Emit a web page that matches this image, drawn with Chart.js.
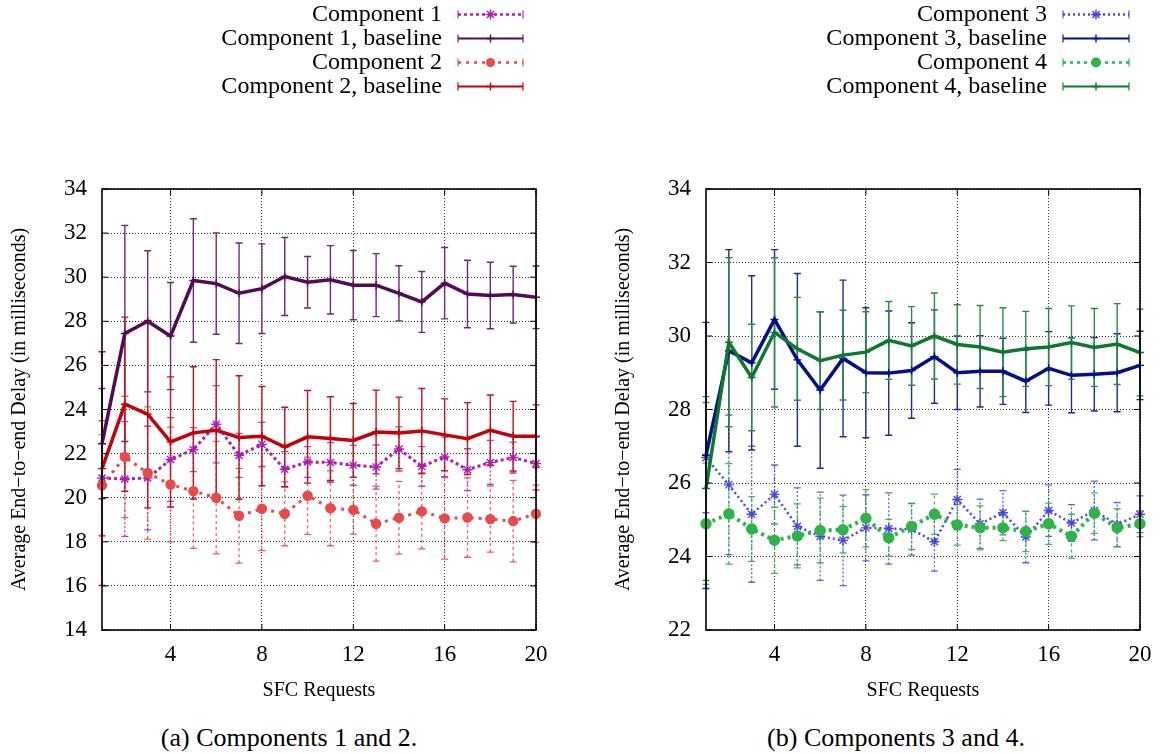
<!DOCTYPE html>
<html><head><meta charset="utf-8">
<script src="https://cdn.jsdelivr.net/npm/chart.js@4.4.1/dist/chart.umd.min.js"></script>
<style>
html,body{margin:0;padding:0;background:#fff;width:1165px;height:754px;overflow:hidden;}
#ca{position:absolute;left:0;top:0;}
#cb{position:absolute;left:604px;top:0;}
.cap{position:absolute;top:723px;width:400px;text-align:center;font-family:'Liberation Serif','Times New Roman',serif;font-size:26px;line-height:30px;color:#000;}
</style></head><body>
<canvas id="ca" width="582" height="720"></canvas>
<canvas id="cb" width="561" height="720"></canvas>
<div class="cap" style="left:89px">(a) Components 1 and 2.</div>
<div class="cap" style="left:696px">(b) Components 3 and 4.</div>
<script>
// ---------- data ----------
const xValues = [1,2,3,4,5,6,7,8,9,10,11,12,13,14,15,16,17,18,19,20];
const xTickValues = [4,8,12,16,20];
const yTicksA = [14,34];
const yTicksB = [22,34];

const comp1     = [20.89,20.85,20.89,21.73,22.18,23.33,21.92,22.42,21.29,21.62,21.60,21.47,21.39,22.21,21.42,21.85,21.27,21.60,21.82,21.55];
const comp1Err  = [2.6,2.6,2.35,1.9,1.0,1.75,1.0,1.0,0.8,0.7,0.9,0.9,1.0,1.0,0.9,0.9,0.95,1.0,0.7,1.2];
const comp1Base = [22.45,27.45,28.00,27.33,29.85,29.71,29.27,29.48,30.03,29.77,29.88,29.64,29.64,29.27,28.88,29.73,29.24,29.17,29.21,29.09];
const comp1BaseErr = [2.5,4.9,3.2,2.43,2.8,2.3,2.28,2.03,1.77,1.17,1.55,1.57,1.43,1.25,1.38,1.62,1.53,1.51,1.29,1.42];
const comp2     = [20.56,21.85,21.12,20.60,20.30,20.00,19.18,19.50,19.27,20.09,19.52,19.45,18.82,19.09,19.38,19.06,19.10,19.03,18.94,19.27];
const comp2Err  = [2.3,2.75,3.0,2.6,2.6,2.55,2.15,1.9,1.45,1.75,1.7,1.1,1.7,1.65,1.7,1.85,1.8,1.5,1.85,1.3];
const comp2Base = [21.32,24.24,23.79,22.53,22.94,23.06,22.73,22.79,22.30,22.76,22.68,22.60,22.98,22.94,23.03,22.85,22.68,23.06,22.79,22.79];
const comp2BaseErr = [5.3,3.95,4.25,2.95,3.0,3.2,2.8,2.25,1.8,2.1,1.9,1.67,1.9,1.62,1.92,1.63,1.63,1.6,1.58,1.42];

const comp3     = [26.69,25.95,25.15,25.69,24.82,24.55,24.44,24.78,24.76,24.74,24.40,25.55,24.89,25.19,24.53,25.25,24.91,25.25,24.87,25.15];
const comp3Err  = [1.5,1.9,1.85,0.8,1.05,1.2,1.23,0.9,0.97,0.7,0.8,0.82,0.67,0.6,0.7,0.7,0.5,0.8,0.6,0.5];
const comp3Base = [26.75,29.60,29.27,30.45,29.35,28.53,29.39,29.00,28.99,29.06,29.44,29.00,29.04,29.04,28.77,29.12,28.93,28.96,29.00,29.20];
const comp3BaseErr = [3.62,2.75,2.37,1.9,2.35,2.13,2.13,1.77,1.69,1.3,1.27,1.0,0.97,0.9,0.85,1.0,1.02,1.0,1.06,0.93];
const comp4     = [24.89,25.16,24.75,24.44,24.56,24.71,24.73,25.04,24.51,24.82,25.15,24.86,24.78,24.78,24.68,24.89,24.55,25.18,24.78,24.89];
const comp4Err  = [1.65,1.37,0.88,0.9,0.87,0.88,0.63,0.78,0.5,0.63,0.55,0.55,0.6,0.35,0.55,0.56,0.6,0.55,0.52,0.35];
const comp4Base = [25.85,29.83,28.87,30.10,29.65,29.33,29.48,29.56,29.88,29.73,30.00,29.77,29.70,29.56,29.65,29.70,29.82,29.69,29.78,29.55];
const comp4BaseErr = [2.5,2.3,1.45,2.03,1.4,1.33,1.22,1.1,1.06,1.07,1.17,1.08,1.13,1.21,1.02,1.05,1.0,1.06,1.1,1.18];

// ---------- helpers ----------
const F = "'Liberation Serif','Times New Roman',serif";

function marker(ctx, style, r, x, y) {
  ctx.beginPath();
  if (style === 'circle') {
    ctx.arc(x, y, r, 0, Math.PI * 2);
    ctx.fill();
    return;
  }
  ctx.moveTo(x - r, y); ctx.lineTo(x + r, y);
  ctx.moveTo(x, y - r); ctx.lineTo(x, y + r);
  if (style === 'star') {
    const d = r * Math.SQRT1_2;
    ctx.moveTo(x - d, y - d); ctx.lineTo(x + d, y + d);
    ctx.moveTo(x - d, y + d); ctx.lineTo(x + d, y - d);
  }
  ctx.stroke();
}

const errorBarPlugin = {
  id: 'errorBars',
  beforeDatasetsDraw(chart) {
    const ctx = chart.ctx, xs = chart.scales.x, ys = chart.scales.y;
    chart.data.datasets.forEach(ds => {
      if (!ds.errors) return;
      ctx.save();
      ctx.strokeStyle = ds.errColor;
      ctx.lineWidth = ds.errWidth;
      ctx.setLineDash(ds.errDash || []);
      const cap = 3.5;
      ds.data.forEach((p, j) => {
        const e = ds.errors[j];
        const x = xs.getPixelForValue(p.x);
        const y1 = ys.getPixelForValue(p.y - e), y2 = ys.getPixelForValue(p.y + e);
        ctx.beginPath();
        ctx.moveTo(x, y1); ctx.lineTo(x, y2);
        ctx.stroke();
        ctx.save(); ctx.setLineDash([]);
        ctx.beginPath();
        ctx.moveTo(x - cap, y1); ctx.lineTo(x + cap, y1);
        ctx.moveTo(x - cap, y2); ctx.lineTo(x + cap, y2);
        ctx.stroke();
        ctx.restore();
      });
      ctx.restore();
    });
  }
};

const framePlugin = {
  id: 'frame',
  afterDatasetsDraw(chart) {
    const {ctx, chartArea: {left, right, top, bottom}} = chart;
    const xs = chart.scales.x, ys = chart.scales.y, t = 6;
    ctx.save();
    ctx.setLineDash([]);
    ctx.strokeStyle = '#000';
    ctx.lineWidth = 1;
    ctx.beginPath();
    xs.ticks.forEach(tk => { const x = xs.getPixelForValue(tk.value);
      ctx.moveTo(x, bottom); ctx.lineTo(x, bottom - t); ctx.moveTo(x, top); ctx.lineTo(x, top + t); });
    ys.ticks.forEach(tk => { const y = ys.getPixelForValue(tk.value);
      ctx.moveTo(left, y); ctx.lineTo(left + t, y); ctx.moveTo(right, y); ctx.lineTo(right - t, y); });
    ctx.stroke();
    ctx.lineWidth = 1.6;
    ctx.strokeRect(left, top, right - left, bottom - top);
    ctx.restore();
  }
};

const legendPlugin = {
  id: 'sideLegend',
  afterDraw(chart, args, opts) {
    const ctx = chart.ctx;
    chart.data.datasets.forEach((ds, i) => {
      const y = opts.top + i * opts.step;
      ctx.save();
      ctx.font = opts.size + 'px ' + F;
      ctx.fillStyle = '#000';
      ctx.textAlign = 'right';
      ctx.textBaseline = 'middle';
      ctx.fillText(ds.label, opts.textRight, y);
      ctx.strokeStyle = ds.borderColor;
      ctx.lineWidth = ds.legendWidth;
      ctx.setLineDash(ds.borderDash || []);
      ctx.beginPath(); ctx.moveTo(opts.x1, y); ctx.lineTo(opts.x2, y); ctx.stroke();
      ctx.setLineDash([]);
      ctx.strokeStyle = ds.errColor;
      ctx.lineWidth = 1.3;
      ctx.beginPath();
      ctx.moveTo(opts.x1, y - 4); ctx.lineTo(opts.x1, y + 4);
      ctx.moveTo(opts.x2, y - 4); ctx.lineTo(opts.x2, y + 4);
      ctx.stroke();
      ctx.strokeStyle = ds.pointBorderColor;
      ctx.fillStyle = ds.pointBackgroundColor;
      ctx.lineWidth = ds.pointBorderWidth;
      marker(ctx, ds.pointStyle, ds.pointRadius, (opts.x1 + opts.x2) / 2, y);
      ctx.restore();
    });
  }
};

function mk(label, ys, errs, color, errColor, width, dash, pStyle, pRadius, errDash, order) {
  return {
    label, data: xValues.map((x, i) => ({x, y: ys[i]})), errors: errs,
    borderColor: color, borderWidth: width, borderDash: dash, tension: 0, fill: false, clip: false,
    pointStyle: pStyle, pointRadius: pRadius, pointBorderColor: color, pointBackgroundColor: color,
    pointBorderWidth: 1.4, pointHoverRadius: pRadius,
    errColor, errWidth: errDash ? 1.3 : 1.4, errDash, legendWidth: dash.length ? Math.min(width, 2.5) : 2, order
  };
}

function makeChart(id, datasets, yRange, rightPad, legendOpts) {
  return new Chart(document.getElementById(id), {
    type: 'line',
    data: {datasets},
    options: {
      responsive: false, animation: false, devicePixelRatio: 1,
      layout: {padding: {top: 189, right: rightPad, bottom: 10, left: 0}},
      plugins: {legend: {display: false}, tooltip: {enabled: false}, sideLegend: legendOpts},
      scales: {
        x: {
          type: 'linear', min: 1, max: 20,
          afterBuildTicks: s => { s.ticks = xTickValues.map(v => ({value: v})); },
          afterFit: s => { s.height = 80; },
          grid: {color: 'rgba(0,0,0,0.8)', lineWidth: 1, drawTicks: false, borderDash: [1, 2]},
          border: {display: false, dash: [1, 2]},
          ticks: {font: {family: F, size: 23}, color: '#000', padding: 11, maxRotation: 0, autoSkip: false},
          title: {display: true, text: 'SFC Requests', font: {family: F, size: 20}, color: '#000', padding: {top: 0, bottom: 7}}
        },
        y: {
          type: 'linear', min: yRange[0], max: yRange[1],
          afterFit: s => { s.width = 102; },
          grid: {color: 'rgba(0,0,0,0.8)', lineWidth: 1, drawTicks: false, borderDash: [1, 2]},
          border: {display: false, dash: [1, 2]},
          ticks: {stepSize: 2, font: {family: F, size: 23}, color: '#000', padding: 15},
          title: {display: true, text: 'Average End\u2212to\u2212end Delay (in milliseconds)', font: {family: F, size: 20}, color: '#000', padding: {top: 8, bottom: 0}}
        }
      }
    },
    plugins: [errorBarPlugin, framePlugin, legendPlugin]
  });
}

makeChart('ca', [
  mk('Component 1', comp1, comp1Err, '#b01cb0', 'rgba(176,28,176,0.85)', 3, [3, 3], 'star', 5, [2, 2], 4),
  mk('Component 1, baseline', comp1Base, comp1BaseErr, '#530b53', '#6e2a6e', 3.5, [], 'cross', 4, null, 3),
  mk('Component 2', comp2, comp2Err, '#e8494b', 'rgba(232,73,75,0.85)', 3, [3, 5], 'circle', 4.5, [3, 3], 2),
  mk('Component 2, baseline', comp2Base, comp2BaseErr, '#c4000a', '#c8101a', 3.5, [], 'cross', 4, null, 1)
], yTicksA, 46, {top: 14.5, step: 24, size: 24, textRight: 442, x1: 458, x2: 523});

makeChart('cb', [
  mk('Component 3', comp3, comp3Err, '#4646e6', 'rgba(70,70,230,0.85)', 2.5, [2, 3], 'star', 5, [2, 2], 4),
  mk('Component 3, baseline', comp3Base, comp3BaseErr, '#00108a', '#1a2a96', 3.5, [], 'cross', 4, null, 3),
  mk('Component 4', comp4, comp4Err, '#2db34a', 'rgba(45,179,74,0.9)', 4, [3, 4], 'circle', 5, [3, 3], 2),
  mk('Component 4, baseline', comp4Base, comp4BaseErr, '#0b7a2e', '#2a8a44', 3.5, [], 'cross', 4, null, 1)
], yTicksB, 25, {top: 14.5, step: 24, size: 24, textRight: 443, x1: 459, x2: 525});
</script>
</body></html>
